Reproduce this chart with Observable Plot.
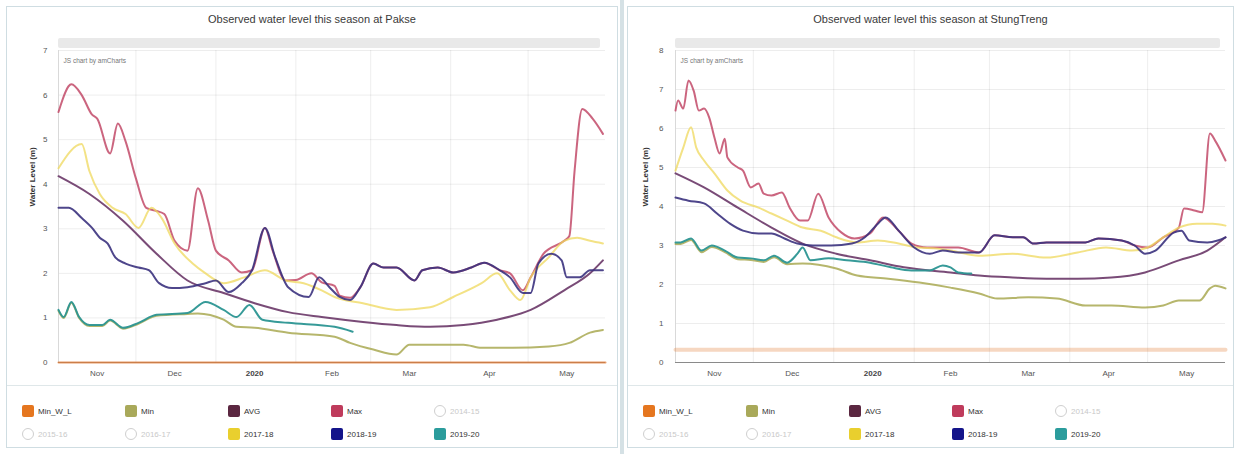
<!DOCTYPE html>
<html>
<head>
<meta charset="utf-8">
<script src="https://cdn.jsdelivr.net/npm/d3@7"></script>
<script src="https://cdn.jsdelivr.net/npm/@observablehq/plot@0.6"></script>
<style>
  body { margin: 0; background: #fff; font-family: "Liberation Sans", Arial, sans-serif; }
  #page { position: relative; width: 1238px; height: 454px; overflow: hidden; background: #fff; }
  .panel { position: absolute; top: 6px; height: 440px; border: 1px solid #cfdde2; background: #fff; }
  .divider { position: absolute; left: 620px; top: 0; width: 4px; height: 454px; background: #d5e1e5; }
  .title { position: absolute; left: 0; right: 0; top: 6px; text-align: center; font-size: 11px; color: #3a3a3a; }
  .scroll { position: absolute; top: 31px; height: 10px; background: #e9e9e9; border-radius: 2px; }
  .chart { position: absolute; top: 24px; left: 0; }
  .legend { position: absolute; left: 0; right: 0; top: 378px; bottom: 0; border-top: 1px solid #dfe7e9; }
  .item { position: absolute; display: flex; align-items: center; font-size: 8px; color: #333; white-space: nowrap; }
  .swatch { width: 12px; height: 12px; border-radius: 2px; margin-right: 4px; box-sizing: border-box; }
  .item.off { color: #c9c9c9; }
  .item.off .swatch { background: #fff; border: 1px solid #cfcfcf; border-radius: 6px; }
</style>
</head>
<body>
<div id="page"></div>
<script>
// Series, in legend order (the three older seasons are switched off)
const seriesNames = ["Min_W_L", "Min", "AVG", "Max", "2014-15", "2015-16", "2016-17", "2017-18", "2018-19", "2019-20"];
const hiddenSeries = ["2014-15", "2015-16", "2016-17"];

// Month tick labels (placed mid-month) and month boundaries for the grid
const monthLabels = ["Nov", "Dec", "2020", "Feb", "Mar", "Apr", "May"];
const monthLabelDays = ["11-16", "12-16", "01-16", "02-15", "03-16", "04-16", "05-16"];
const monthStartDays = ["12-01", "01-01", "02-01", "03-01", "04-01", "05-01"];

// ---- Pakse: water level (m) by day of the season ----
const pakseMinWL = [["11-01", 0], ["05-31", 0]];
const pakseMin = [["11-01",1.16],["11-03",1.0],["11-06",1.34],["11-09",1.0],["11-13",0.82],["11-18",0.82],["11-21",0.94],["11-26",0.76],["12-02",0.87],["12-09",1.05],["12-21",1.09],["12-25",1.1],["01-04",0.96],["01-09",0.8],["01-16",0.78],["01-29",0.67],["02-16",0.58],["02-22",0.44],["03-02",0.29],["03-11",0.18],["03-16",0.4],["03-24",0.4],["04-06",0.4],["04-13",0.33],["04-25",0.33],["05-09",0.36],["05-17",0.44],["05-25",0.67],["05-30",0.73]];
const pakseAvg = [["11-01",4.18],["11-13",3.78],["11-26",3.18],["12-09",2.44],["12-21",1.84],["01-04",1.56],["01-16",1.33],["01-29",1.13],["02-11",1.02],["02-27",0.91],["03-11",0.84],["03-24",0.80],["04-06",0.84],["04-19",0.96],["05-02",1.18],["05-15",1.62],["05-25",2.0],["05-30",2.29]];
const pakseMax = [["11-01",5.62],["11-06",6.24],["11-10",6.0],["11-14",5.56],["11-16",5.47],["11-21",4.69],["11-24",5.36],["11-27",4.96],["12-01",4.13],["12-05",3.47],["12-09",3.40],["12-12",3.33],["12-16",2.73],["12-21",2.51],["12-25",3.91],["12-29",3.18],["01-01",2.51],["01-06",2.29],["01-11",2.02],["01-15",2.07],["01-20",3.02],["01-23",2.51],["01-28",1.84],["02-01",1.85],["02-07",2.0],["02-11",1.8],["02-16",1.72],["02-18",1.5],["02-22",1.45],["02-26",1.69],["03-02",2.22],["03-06",2.13],["03-11",2.13],["03-18",1.84],["03-21",2.07],["03-27",2.13],["04-02",2.02],["04-09",2.13],["04-14",2.24],["04-20",2.07],["04-24",2.0],["04-29",1.62],["05-02",1.91],["05-07",2.44],["05-15",2.73],["05-17",2.84],["05-19",4.29],["05-22",5.69],["05-26",5.47],["05-30",5.13]];
const pakse1718 = [["11-01",4.36],["11-10",4.9],["11-13",4.29],["11-17",3.78],["11-22",3.47],["11-27",3.33],["12-02",3.02],["12-07",3.47],["12-11",3.24],["12-16",2.67],["12-23",2.22],["12-28",2.0],["01-04",1.78],["01-12",1.91],["01-20",2.07],["01-28",1.84],["02-04",1.78],["02-11",1.62],["02-16",1.47],["02-27",1.33],["03-11",1.18],["03-24",1.24],["04-02",1.47],["04-13",1.78],["04-19",2.0],["04-24",1.62],["04-28",1.4],["05-02",1.91],["05-09",2.36],["05-15",2.73],["05-20",2.8],["05-25",2.73],["05-30",2.67]];
const pakse1819 = [["11-01",3.47],["11-05",3.47],["11-10",3.24],["11-14",3.02],["11-17",2.8],["11-20",2.67],["11-23",2.36],["11-27",2.22],["12-02",2.13],["12-06",2.07],["12-10",1.78],["12-15",1.67],["12-21",1.69],["12-28",1.78],["01-01",1.84],["01-06",1.58],["01-11",1.78],["01-15",2.07],["01-20",3.02],["01-24",2.36],["01-29",1.69],["02-06",1.47],["02-10",1.91],["02-14",1.69],["02-18",1.47],["02-22",1.40],["02-26",1.69],["03-02",2.22],["03-06",2.13],["03-11",2.13],["03-18",1.84],["03-21",2.07],["03-27",2.13],["04-02",2.02],["04-09",2.13],["04-14",2.24],["04-20",2.07],["04-24",1.91],["04-29",1.56],["05-02",1.56],["05-05",2.22],["05-10",2.44],["05-14",2.29],["05-16",1.91],["05-21",1.91],["05-25",2.07],["05-30",2.07]];
const pakse1920 = [["11-01",1.18],["11-03",1.02],["11-06",1.36],["11-09",1.02],["11-13",0.84],["11-18",0.84],["11-21",0.96],["11-26",0.78],["12-02",0.89],["12-09",1.07],["12-21",1.11],["12-28",1.36],["01-04",1.18],["01-09",1.02],["01-14",1.29],["01-19",0.96],["01-29",0.89],["02-16",0.80],["02-23",0.69]];

// ---- StungTreng: water level (m) by day of the season ----
const stungMinWL = [["11-01", 0.33], ["05-31", 0.33]];
const stungMin = [["11-01",3.04],["11-03",3.04],["11-07",3.14],["11-11",2.83],["11-15",2.96],["11-20",2.83],["11-25",2.65],["11-30",2.63],["12-05",2.58],["12-09",2.7],["12-14",2.52],["12-20",2.54],["01-02",2.41],["01-10",2.23],["01-22",2.15],["02-03",2.05],["02-15",1.92],["02-26",1.77],["03-04",1.64],["03-16",1.67],["03-27",1.64],["04-07",1.46],["04-17",1.46],["04-30",1.41],["05-07",1.46],["05-13",1.59],["05-21",1.59],["05-25",1.9],["05-27",1.97],["05-31",1.9]];
const stungAvg = [["11-01",4.85],["11-12",4.49],["11-25",3.97],["12-08",3.46],["12-20",3.05],["01-02",2.79],["01-15",2.62],["01-28",2.44],["02-15",2.31],["02-26",2.23],["03-10",2.18],["03-23",2.15],["04-04",2.15],["04-17",2.18],["04-30",2.31],["05-13",2.62],["05-24",2.87],["05-31",3.21]];
const stungMax = [["11-01",6.46],["11-02",6.72],["11-04",6.51],["11-06",7.23],["11-08",6.97],["11-10",6.46],["11-12",6.51],["11-14",6.28],["11-16",5.77],["11-18",5.36],["11-20",5.74],["11-21",5.26],["11-25",5.0],["11-27",4.92],["11-30",4.49],["12-03",4.59],["12-05",4.33],["12-08",4.28],["12-12",4.36],["12-15",3.97],["12-19",3.64],["12-22",3.64],["12-26",4.33],["12-30",3.72],["01-04",3.33],["01-09",3.18],["01-15",3.31],["01-20",3.72],["01-26",3.38],["01-31",3.05],["02-06",2.95],["02-15",2.95],["02-18",2.95],["02-26",2.82],["03-03",3.26],["03-10",3.21],["03-14",3.21],["03-18",3.05],["03-23",3.08],["03-29",3.08],["04-07",3.08],["04-12",3.18],["04-21",3.13],["04-26",3.0],["05-01",2.95],["05-07",3.21],["05-13",3.46],["05-15",3.95],["05-19",3.9],["05-22",3.85],["05-25",5.87],["05-27",5.69],["05-31",5.18]];
const stung1718 = [["11-01",4.92],["11-04",5.51],["11-07",6.03],["11-09",5.51],["11-12",5.18],["11-16",4.85],["11-21",4.41],["11-26",4.15],["12-03",3.97],["12-08",3.82],["12-14",3.64],["12-20",3.46],["12-27",3.38],["01-02",3.21],["01-10",3.08],["01-18",3.13],["01-26",3.05],["02-02",2.95],["02-10",2.92],["02-15",2.87],["02-26",2.74],["03-10",2.79],["03-23",2.69],["04-04",2.82],["04-15",2.95],["04-25",2.87],["05-01",2.95],["05-07",3.21],["05-13",3.46],["05-20",3.56],["05-26",3.56],["05-31",3.51]];
const stung1819 = [["11-01",4.23],["11-06",4.15],["11-12",4.08],["11-17",3.82],["11-22",3.56],["11-27",3.38],["12-03",3.31],["12-08",3.31],["12-13",3.18],["12-18",3.05],["12-24",3.0],["12-31",3.0],["01-08",3.05],["01-13",3.21],["01-18",3.56],["01-21",3.72],["01-26",3.38],["02-01",2.95],["02-07",2.79],["02-12",2.87],["02-18",2.82],["02-26",2.82],["03-03",3.26],["03-10",3.21],["03-14",3.21],["03-18",3.05],["03-23",3.08],["03-29",3.08],["04-07",3.08],["04-12",3.18],["04-21",3.13],["04-26",3.0],["04-30",2.79],["05-04",2.87],["05-11",3.33],["05-14",3.38],["05-17",3.13],["05-24",3.08],["05-28",3.13],["05-31",3.21]];
const stung1920 = [["11-01",3.08],["11-03",3.08],["11-07",3.18],["11-11",2.87],["11-15",3.0],["11-20",2.87],["11-25",2.69],["11-30",2.67],["12-05",2.62],["12-09",2.74],["12-14",2.56],["12-18",2.79],["12-20",2.95],["12-23",2.62],["12-30",2.67],["01-06",2.62],["01-15",2.56],["01-23",2.44],["01-31",2.36],["02-07",2.36],["02-12",2.49],["02-15",2.44],["02-18",2.31],["02-23",2.28]];

// ---- styling ----
const swatchColors = {
  "Min_W_L": "#e5761f", "Min": "#a9a95a", "AVG": "#5b2741", "Max": "#bf3b5c",
  "2017-18": "#e9cf2e", "2018-19": "#14148a", "2019-20": "#2b9c9c"
};
const lineStyles = {
  "Min_W_L": {stroke: "#e07a33", strokeOpacity: 0.75, strokeWidth: 2},
  "Min":     {stroke: "#a9a952", strokeOpacity: 0.85, strokeWidth: 2},
  "AVG":     {stroke: "#6a3768", strokeOpacity: 0.9, strokeWidth: 2},
  "Max":     {stroke: "#c24a68", strokeOpacity: 0.85, strokeWidth: 2},
  "2017-18": {stroke: "#efd85c", strokeOpacity: 0.75, strokeWidth: 2},
  "2018-19": {stroke: "#3b327e", strokeOpacity: 0.9, strokeWidth: 2},
  "2019-20": {stroke: "#2b9592", strokeOpacity: 0.95, strokeWidth: 2}
};

// "MM-DD" within the 2019-20 season -> UTC date
function seasonDate(md) {
  const [m, d] = md.split("-").map(Number);
  return new Date(Date.UTC(m >= 10 ? 2019 : 2020, m - 1, d));
}
const toRows = (pairs) => pairs.map(([md, v]) => ({date: seasonDate(md), value: v}));

const xDomain = [seasonDate("11-01"), seasonDate("05-31")];
const labelDates = monthLabelDays.map(seasonDate);
const labelByTime = new Map(labelDates.map((d, i) => [+d, monthLabels[i]]));
const gridDates = monthStartDays.map(seasonDate);

function drawPanel(cfg) {
  const page = document.getElementById("page");
  const panel = document.createElement("div");
  panel.className = "panel";
  panel.style.left = cfg.left + "px";
  panel.style.width = cfg.width + "px";
  page.appendChild(panel);

  const title = document.createElement("div");
  title.className = "title";
  title.textContent = cfg.title;
  panel.appendChild(title);

  const plotLeft = cfg.marginLeft;
  const plotRight = cfg.width - cfg.marginRight;

  const lineMarks = cfg.series.map(([name, pairs]) => {
    const style = {...lineStyles[name]};
    if (name === "Min_W_L" && cfg.thickMinWL) { style.strokeWidth = 4; style.strokeOpacity = 0.3; }
    return Plot.line(toRows(pairs), {x: "date", y: "value", curve: "monotone-x", ...style});
  });

  const svg = Plot.plot({
    width: cfg.width,
    height: 354,
    marginLeft: cfg.marginLeft,
    marginRight: cfg.marginRight,
    marginTop: 19,
    marginBottom: 23,
    style: {fontFamily: "Liberation Sans, Arial, sans-serif", background: "transparent"},
    x: {type: "utc", domain: xDomain},
    y: {domain: [0, cfg.yMax]},
    marks: [
      Plot.gridY(d3.range(0, cfg.yMax + 1), {stroke: "#000", strokeOpacity: 0.07}),
      Plot.gridX(gridDates, {stroke: "#000", strokeOpacity: 0.07}),
      Plot.ruleX([xDomain[0]], {stroke: "#d9d9d9"}),
      Plot.ruleY([0], {stroke: "#8a8a8a"}),
      Plot.axisY(d3.range(0, cfg.yMax + 1), {tickSize: 0, tickPadding: cfg.tickPadding, fontSize: 8, fill: "#555", label: null}),
      Plot.axisX(labelDates.filter(d => labelByTime.get(+d) !== "2020"), {tickSize: 0, tickPadding: 8, fontSize: 8, fill: "#555", label: null, tickFormat: d => labelByTime.get(+d)}),
      Plot.axisX(labelDates.filter(d => labelByTime.get(+d) === "2020"), {tickSize: 0, tickPadding: 8, fontSize: 8, fontWeight: "bold", fill: "#444", label: null, tickFormat: d => labelByTime.get(+d)}),
      Plot.text(["Water Level (m)"], {frameAnchor: "left", rotate: -90, dx: cfg.labelDx, fontSize: 8, fontWeight: "bold", fill: "#333"}),
      Plot.text(["JS chart by amCharts"], {frameAnchor: "top-left", dx: 5, dy: 8, fontSize: 6.5, fill: "#777", textAnchor: "start"}),
      ...lineMarks
    ]
  });
  svg.classList.add("chart");
  panel.appendChild(svg);

  const scroll = document.createElement("div");
  scroll.className = "scroll";
  scroll.style.left = plotLeft + "px";
  scroll.style.width = (plotRight - plotLeft - 5) + "px";
  panel.appendChild(scroll);

  const legend = document.createElement("div");
  legend.className = "legend";
  panel.appendChild(legend);
  seriesNames.forEach((name, i) => {
    const item = document.createElement("div");
    const off = hiddenSeries.includes(name);
    item.className = "item" + (off ? " off" : "");
    item.style.left = (15 + (i % 5) * 103) + "px";
    item.style.top = (19 + Math.floor(i / 5) * 23) + "px";
    const sw = document.createElement("div");
    sw.className = "swatch";
    if (!off) sw.style.background = swatchColors[name];
    const label = document.createElement("span");
    label.textContent = name;
    item.appendChild(sw);
    item.appendChild(label);
    legend.appendChild(item);
  });
}

const divider = document.createElement("div");
divider.className = "divider";
document.getElementById("page").appendChild(divider);

drawPanel({
  title: "Observed water level this season at Pakse",
  left: 6, width: 610, marginLeft: 51, marginRight: 12,
  yMax: 7, tickPadding: 11, labelDx: -26, thickMinWL: false,
  series: [["Min_W_L", pakseMinWL], ["Min", pakseMin], ["AVG", pakseAvg], ["Max", pakseMax],
           ["2017-18", pakse1718], ["2018-19", pakse1819], ["2019-20", pakse1920]]
});

drawPanel({
  title: "Observed water level this season at StungTreng",
  left: 627, width: 605, marginLeft: 47, marginRight: 8,
  yMax: 8, tickPadding: 12, labelDx: -30, thickMinWL: true,
  series: [["Min_W_L", stungMinWL], ["Min", stungMin], ["AVG", stungAvg], ["Max", stungMax],
           ["2017-18", stung1718], ["2018-19", stung1819], ["2019-20", stung1920]]
});
</script>
</body>
</html>
